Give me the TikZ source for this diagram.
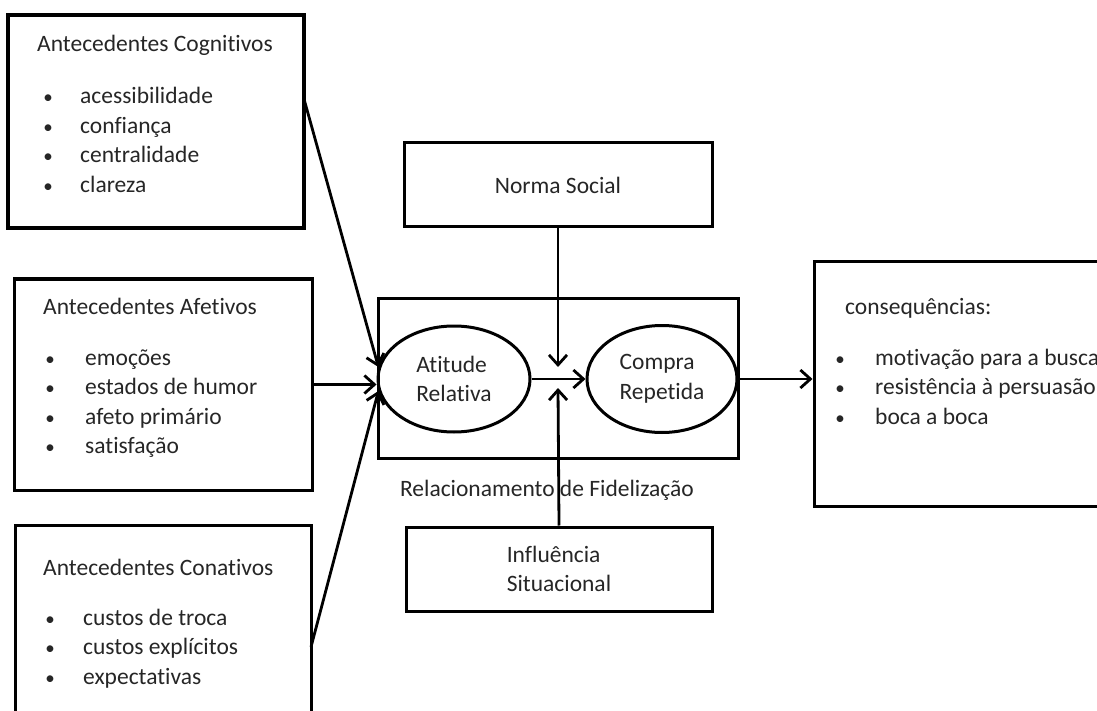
\documentclass[tikz,border=0pt]{standalone}
\usepackage{fontspec}
\setmainfont{Carlito}[Ligatures=NoCommon]
\usetikzlibrary{arrows.meta,shapes.geometric}

\begin{document}
\begin{tikzpicture}[x=1pt,y=-1pt,
  every node/.style={font=\fontsize{23.5}{29.5}\selectfont, text=black!85},
  fdbox/.style={draw=black, line width=3pt, rectangle, inner sep=0pt},
  fdoval/.style={draw=black, line width=3pt, ellipse, inner sep=0pt, align=left},
  fdtext/.style={anchor=base west, inner sep=0pt},
  fddot/.style={anchor=base, inner sep=0pt, font=\fontsize{19}{29.5}\selectfont},
  fdarrow/.style={line width=2.8pt, -{Straight Barb[length=10pt,width=18pt]}}]
\useasboundingbox (0,0) rectangle (1097,711);
% boxes
\node[fdbox, line width=3.6pt, minimum width=296, minimum height=213] (cog) at (156,121.5) {};
\node[fdbox, minimum width=298, minimum height=211] (afet) at (163,384.5) {};
\node[fdbox, minimum width=296, minimum height=210] (conat) at (163,630) {};
\node[fdbox, minimum width=306, minimum height=244] (conseq) at (967,384) {};
\node[fdbox, minimum width=308, minimum height=84] (norma) at (558,185) {Norma Social};
\node[fdbox, minimum width=306, minimum height=84, align=left] (infl) at (559,569) {Influência\\Situacional};
\node[fdbox, minimum width=360, minimum height=160] (fidel) at (558,378) {};
\node[fdoval, minimum width=152, minimum height=106] (atitude) at (454,379) {Atitude\\Relativa};
\node[fdoval, minimum width=150, minimum height=107] (compra) at (662,379) {Compra\\Repetida};
% texts
\node[fdtext] (cogtitle) at (37,52) {Antecedentes Cognitivos};
\node[fddot] (cogdot1) at (48,104) {•};
\node[fdtext] (cog1) at (80,104) {acessibilidade};
\node[fddot] (cogdot2) at (48,133.5) {•};
\node[fdtext] (cog2) at (80,133.5) {confiança};
\node[fddot] (cogdot3) at (48,163) {•};
\node[fdtext] (cog3) at (80,163) {centralidade};
\node[fddot] (cogdot4) at (48,192.5) {•};
\node[fdtext] (cog4) at (80,192.5) {clareza};
\node[fdtext] (afettitle) at (43,314) {Antecedentes Afetivos};
\node[fddot] (afetdot1) at (50,365) {•};
\node[fdtext] (afet1) at (85,365) {emoções};
\node[fddot] (afetdot2) at (50,394.5) {•};
\node[fdtext] (afet2) at (85,394.5) {estados de humor};
\node[fddot] (afetdot3) at (50,424) {•};
\node[fdtext] (afet3) at (85,424) {afeto primário};
\node[fddot] (afetdot4) at (50,453.5) {•};
\node[fdtext] (afet4) at (85,453.5) {satisfação};
\node[fdtext] (conattitle) at (43,575) {Antecedentes Conativos};
\node[fddot] (conatdot1) at (50,625) {•};
\node[fdtext] (conat1) at (83,625) {custos de troca};
\node[fddot] (conatdot2) at (50,654.5) {•};
\node[fdtext] (conat2) at (83,654.5) {custos explícitos};
\node[fddot] (conatdot3) at (50,684) {•};
\node[fdtext] (conat3) at (83,684) {expectativas};
\node[fdtext] (conseqtitle) at (845,314) {consequências:};
\node[fddot] (conseqdot1) at (840,365) {•};
\node[fdtext] (conseq1) at (875,365) {motivação para a busca};
\node[fddot] (conseqdot2) at (840,394.5) {•};
\node[fdtext] (conseq2) at (875,394.5) {resistência à persuasão};
\node[fddot] (conseqdot3) at (840,424) {•};
\node[fdtext] (conseq3) at (875,424) {boca a boca};
\node[anchor=base, inner sep=0pt] (fideltitle) at (547,496) {Relacionamento de Fidelização};
% connectors
\coordinate (cogout) at (304,99);
\coordinate (conatout) at (311,647);
\coordinate (normatip) at (558,367);
\coordinate (infltip) at (558,388);
\draw[fdarrow] (cogout) -- (atitude.171);
\draw[fdarrow] (afet.east) -- (afet.east -| atitude.west);
\draw[fdarrow] (conatout) -- (atitude.189);
\draw[fdarrow] (atitude.east) -- (compra.west);
\draw[fdarrow] (norma.south) -- (normatip);
\draw[fdarrow] (infl.north) -- (infltip);
\draw[fdarrow] (compra.east) -- (compra.east -| conseq.west);
\end{tikzpicture}
\end{document}
